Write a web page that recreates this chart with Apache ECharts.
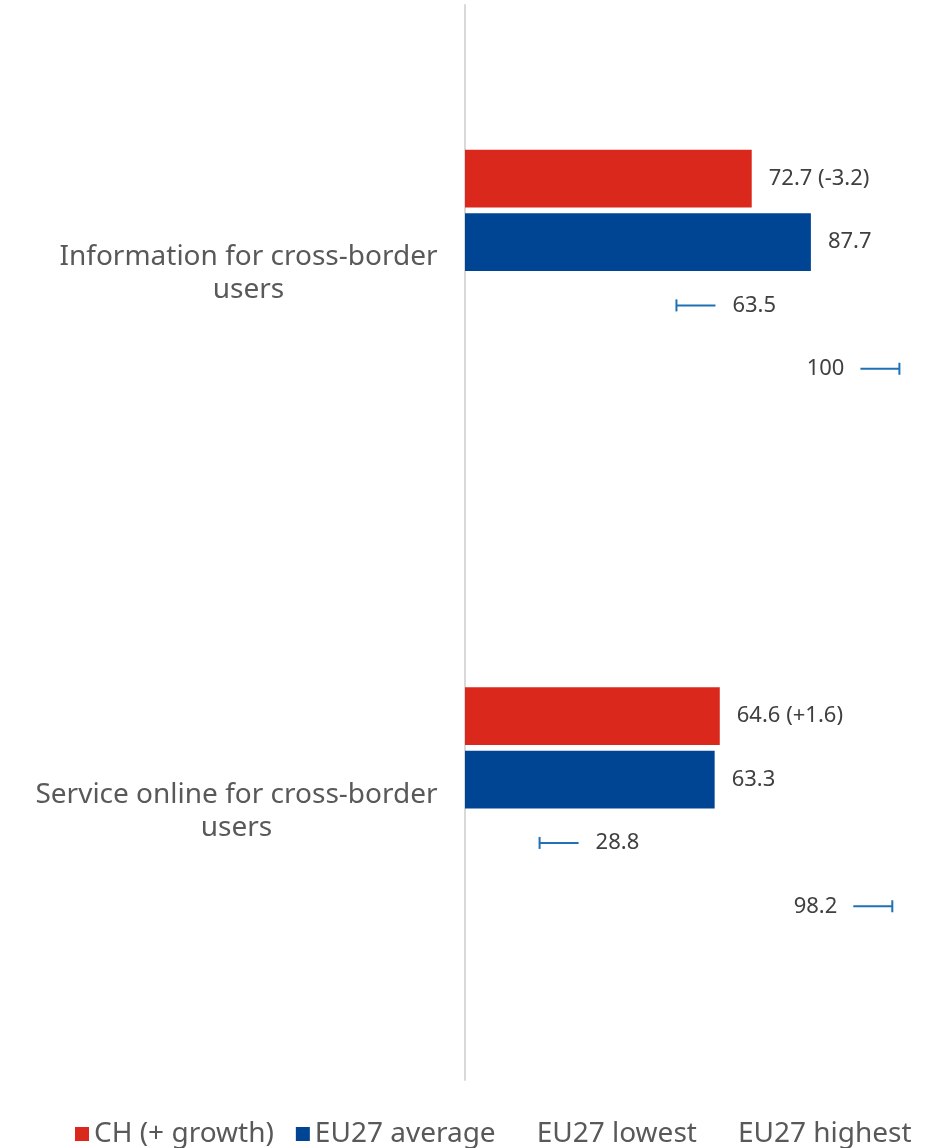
<!DOCTYPE html>
<html>
<head>
<meta charset="utf-8">
<title>Cross-border services: CH vs EU27</title>
<script src="https://cdn.jsdelivr.net/npm/echarts@6/dist/echarts.min.js"></script>
<style>
  html, body { margin: 0; padding: 0; background: #ffffff; }
  #chart { width: 936px; height: 1148px; }
</style>
</head>
<body>
<div id="chart"></div>
<script>
// Indicators shown on the category axis (top to bottom)
const categories = ['Information for cross-border users', 'Service online for cross-border users'];
// Switzerland score and its change
const chValues = [72.7, 64.6];
const chGrowth = ['-3.2', '+1.6'];
// EU27 reference values
const euAverage = [87.7, 63.3];
const euLowest = [63.5, 28.8];
const euHighest = [100, 98.2];

const seriesNames = ['CH (+ growth)', 'EU27 average', 'EU27 lowest', 'EU27 highest'];

const FONT = 'Noto Sans';
const RED = '#DA291C';
const BLUE = '#004494';
const WHISKER = '#1F70B4';
const CAT_GAP = 0.539;
const BAR_GAP = 0.097;
const CAT_FONT = 28;

// Word-wrap the axis labels and centre each line inside a block of the widest line's width
const measureCtx = document.createElement('canvas').getContext('2d');
measureCtx.font = CAT_FONT + 'px "' + FONT + '"';
function wrap(text, maxW) {
  const words = text.split(' ');
  const lines = [];
  let cur = '';
  words.forEach(w => {
    const t = cur ? cur + ' ' + w : w;
    if (cur && measureCtx.measureText(t).width > maxW) { lines.push(cur); cur = w; }
    else cur = t;
  });
  if (cur) lines.push(cur);
  return lines;
}
const wrapped = categories.map(c => wrap(c, 430));
const rich = {};
wrapped.forEach((lines, i) => {
  const w = Math.max.apply(null, lines.map(l => measureCtx.measureText(l).width));
  rich['c' + i] = {
    width: Math.ceil(w) + 2, align: 'center', fontSize: CAT_FONT, lineHeight: 33,
    color: '#595959', fontFamily: FONT
  };
});

// Whisker caps for the lowest / highest markers (drawn at the matching bar slot)
function whiskerItem(slot, side) {
  return function (params, api) {
    const v = api.value(0);
    const end = api.coord([v, api.value(1)]);
    const band = api.size([0, 1])[1];
    const usable = band * (1 - CAT_GAP);
    const n = 4;
    const bw = usable / (n + (n - 1) * BAR_GAP);
    const y = end[1] - usable / 2 + slot * bw * (1 + BAR_GAP) + bw / 2;
    const len = 39, cap = 6;
    const x0 = side === 'left' ? end[0] - len : end[0] + 1;
    const x1 = side === 'left' ? end[0] : end[0] + 1 + len;
    const cx = side === 'left' ? x0 : x1;
    const style = { stroke: WHISKER, lineWidth: 2 };
    return {
      type: 'group',
      children: [
        { type: 'line', shape: { x1: x0, y1: y, x2: x1, y2: y }, style: style },
        { type: 'line', shape: { x1: cx, y1: y - cap, x2: cx, y2: y + cap }, style: style }
      ]
    };
  };
}

const valueLabel = { fontSize: 22, color: '#404040', fontFamily: FONT };

const chart = echarts.init(document.getElementById('chart'), null, { renderer: 'canvas' });
chart.setOption({
  animation: false,
  backgroundColor: '#ffffff',
  grid: { left: 465, right: 76.6, top: 5, bottom: 68, containLabel: false },
  xAxis: {
    type: 'value', min: 0, max: 100,
    axisLine: { show: false }, axisTick: { show: false },
    axisLabel: { show: false }, splitLine: { show: false }
  },
  yAxis: {
    type: 'category', inverse: true, data: categories,
    axisLine: { show: true, lineStyle: { color: '#D9D9D9', width: 2 } },
    axisTick: { show: false },
    axisLabel: {
      margin: 26,
      formatter: (v, i) => '{c' + i + '|' + wrapped[i].join('\n') + '}',
      rich: rich
    }
  },
  legend: {
    bottom: -5, left: 70,
    data: seriesNames,
    icon: 'rect', itemWidth: 14, itemHeight: 14, itemGap: 22,
    textStyle: { fontSize: 28, color: '#595959', fontFamily: FONT }
  },
  series: [
    {
      name: seriesNames[0], type: 'bar', data: chValues,
      barCategoryGap: (CAT_GAP * 100) + '%', barGap: (BAR_GAP * 100) + '%',
      itemStyle: { color: RED },
      label: {
        show: true, position: 'right', distance: 17,
        formatter: p => p.value + ' (' + chGrowth[p.dataIndex] + ')', ...valueLabel
      }
    },
    {
      name: seriesNames[1], type: 'bar', data: euAverage,
      itemStyle: { color: BLUE },
      label: { show: true, position: 'right', distance: 17, ...valueLabel }
    },
    {
      name: seriesNames[2], type: 'bar', data: euLowest,
      itemStyle: { color: 'rgba(0,0,0,0)' },
      label: { show: true, position: 'right', distance: 17, ...valueLabel }
    },
    {
      name: seriesNames[3], type: 'bar', data: euHighest,
      itemStyle: { color: 'rgba(0,0,0,0)' },
      label: { show: true, position: 'insideRight', distance: 15, ...valueLabel }
    },
    {
      type: 'custom', name: 'lowMarker', silent: true, clip: false,
      renderItem: whiskerItem(2, 'left'),
      encode: { x: 0, y: 1 },
      data: euLowest.map((v, i) => [v, i])
    },
    {
      type: 'custom', name: 'highMarker', silent: true, clip: false,
      renderItem: whiskerItem(3, 'right'),
      encode: { x: 0, y: 1 },
      data: euHighest.map((v, i) => [v, i])
    }
  ]
});
</script>
</body>
</html>
